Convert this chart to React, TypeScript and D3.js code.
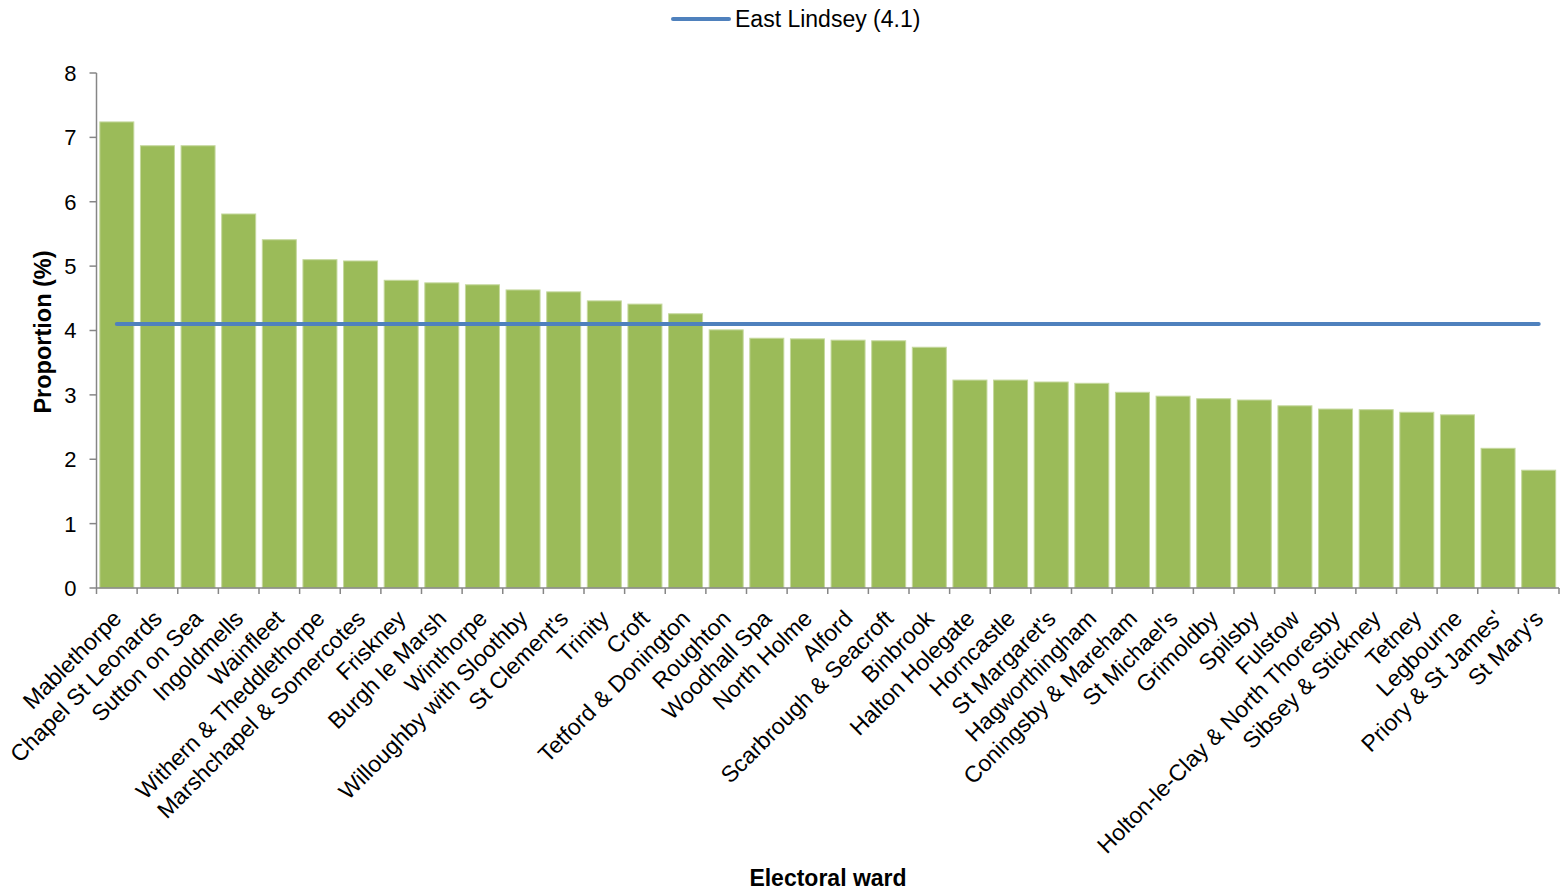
import React from "react";
import * as d3 from "d3";

// Proportion (%) by electoral ward, sorted descending
const wards: string[] = [
  "Mablethorpe", "Chapel St Leonards", "Sutton on Sea", "Ingoldmells", "Wainfleet",
  "Withern & Theddlethorpe", "Marshchapel & Somercotes", "Friskney", "Burgh le Marsh",
  "Winthorpe", "Willoughby with Sloothby", "St Clement's", "Trinity", "Croft",
  "Tetford & Donington", "Roughton", "Woodhall Spa", "North Holme", "Alford",
  "Scarbrough & Seacroft", "Binbrook", "Halton Holegate", "Horncastle", "St Margaret's",
  "Hagworthingham", "Coningsby & Mareham", "St Michael's", "Grimoldby", "Spilsby",
  "Fulstow", "Holton-le-Clay & North Thoresby", "Sibsey & Stickney", "Tetney",
  "Legbourne", "Priory & St James'", "St Mary's",
];

const proportions: number[] = [
  7.24, 6.87, 6.87, 5.81, 5.41, 5.10, 5.08, 4.78, 4.74, 4.71, 4.63, 4.60, 4.46, 4.41,
  4.26, 4.01, 3.88, 3.87, 3.85, 3.84, 3.74, 3.23, 3.23, 3.20, 3.18, 3.04, 2.98, 2.94,
  2.92, 2.83, 2.78, 2.77, 2.73, 2.69, 2.17, 1.83,
];

const districtName = "East Lindsey";
const districtValue = 4.1;

const yTicks: number[] = [0, 1, 2, 3, 4, 5, 6, 7, 8];

const W = 1566;
const H = 891;
const FONT = "'Liberation Sans', Arial, sans-serif";

export default function App() {
  const left = 96.5;
  const right = 1559;
  const top = 73;
  const bottom = 588;

  const x = d3
    .scaleBand<string>()
    .domain(wards)
    .range([left, right])
    .paddingInner(0.163)
    .paddingOuter(0.0815);
  const y = d3.scaleLinear().domain([0, 8]).range([bottom, top]);

  const step = x.step();
  const boundaries = d3.range(wards.length + 1).map((i) => left + i * step);

  const lineGen = d3
    .line<string>()
    .x((d) => (x(d) as number) + x.bandwidth() / 2)
    .y(() => y(districtValue));
  const endpoints = [wards[0], wards[wards.length - 1]];

  return (
    <svg
      width={W}
      height={H}
      style={{ position: "absolute", left: 0, top: 0, background: "#fff" }}
      fontFamily={FONT}
    >
      {/* legend */}
      <line x1={673} x2={729} y1={19} y2={19} stroke="#4F81BD" strokeWidth={4} strokeLinecap="round" />
      <text x={735} y={19} dy="0.35em" fontSize={23} fill="#000">
        {`${districtName} (${districtValue})`}
      </text>

      {/* bars */}
      {wards.map((w, i) => (
        <rect
          key={w}
          x={x(w)}
          y={y(proportions[i])}
          width={x.bandwidth()}
          height={bottom - y(proportions[i])}
          fill="#9BBB59"
          stroke="#C5D89E"
          strokeWidth={1}
        />
      ))}

      {/* district average line */}
      <path d={lineGen(endpoints) || ""} stroke="#4F81BD" strokeWidth={4} fill="none" strokeLinecap="round" />

      {/* y axis */}
      <line x1={left} x2={left} y1={top} y2={bottom} stroke="#868686" strokeWidth={1.5} />
      {yTicks.map((t) => (
        <g key={t}>
          <line x1={left - 7} x2={left} y1={y(t)} y2={y(t)} stroke="#868686" strokeWidth={1.5} />
          <text x={76.5} y={y(t)} dy="0.36em" textAnchor="end" fontSize={22} fill="#000">
            {t}
          </text>
        </g>
      ))}

      {/* x axis */}
      <line x1={left} x2={right} y1={bottom} y2={bottom} stroke="#868686" strokeWidth={1.5} />
      {boundaries.map((b, i) => (
        <line key={i} x1={b} x2={b} y1={bottom} y2={bottom + 6} stroke="#868686" strokeWidth={1.5} />
      ))}
      {wards.map((w) => {
        const cx = (x(w) as number) + x.bandwidth() / 2;
        return (
          <text
            key={w}
            transform={`translate(${cx + 6},${620}) rotate(-45)`}
            textAnchor="end"
            fontSize={23}
            fill="#000"
          >
            {w}
          </text>
        );
      })}

      {/* axis titles */}
      <text
        transform={`translate(51,${332}) rotate(-90)`}
        textAnchor="middle"
        fontSize={23.5}
        fontWeight="bold"
        fill="#000"
      >
        Proportion (%)
      </text>
      <text x={828} y={886} textAnchor="middle" fontSize={23} fontWeight="bold" fill="#000">
        Electoral ward
      </text>
    </svg>
  );
}
